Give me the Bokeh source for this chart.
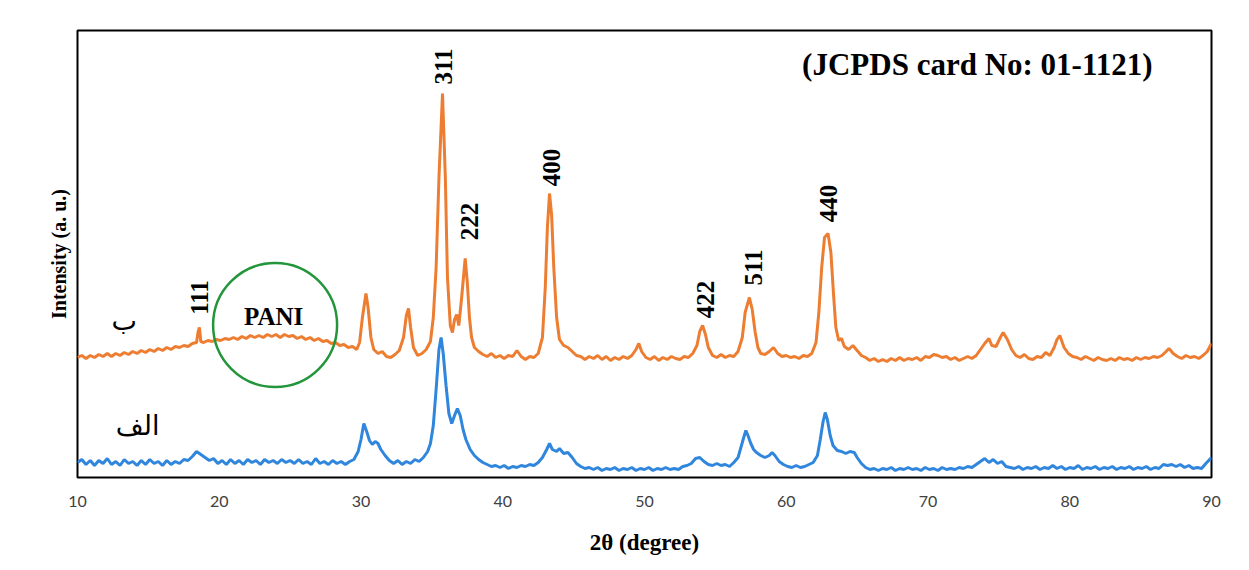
import math
from bokeh.plotting import figure
from bokeh.models import Range1d, FixedTicker
from bokeh.core.properties import value
from bokeh.embed import file_html
from bokeh.resources import INLINE

# ---------------- data ----------------
# sample "الف" (blue)
blue_2theta = [
    10.0, 10.3, 10.6, 10.9, 11.2, 11.5, 11.8, 12.1, 12.4, 12.7, 13.0, 13.3, 13.6, 13.9, 14.2, 14.5,
    14.8, 15.1, 15.4, 15.7, 16.0, 16.3, 16.6, 16.9, 17.2, 17.5, 17.8, 18.1, 18.4, 18.7, 19.0, 19.3,
    19.6, 19.9, 20.2, 20.5, 20.8, 21.1, 21.4, 21.7, 22.0, 22.3, 22.6, 22.9, 23.2, 23.5, 23.8, 24.1,
    24.4, 24.7, 25.0, 25.3, 25.6, 25.9, 26.2, 26.5, 26.8, 27.1, 27.4, 27.7, 28.0, 28.3, 28.6, 28.9,
    29.2, 29.5, 29.8, 30.0, 30.2, 30.4, 30.6, 30.8, 31.0, 31.2, 31.4, 31.7, 32.0, 32.3, 32.6, 32.9,
    33.2, 33.5, 33.8, 34.1, 34.4, 34.7, 34.9, 35.1, 35.3, 35.5, 35.65, 35.8, 36.0, 36.2, 36.4, 36.6,
    36.8, 37.0, 37.2, 37.4, 37.7, 38.0, 38.3, 38.6, 38.9, 39.2, 39.5, 39.8, 40.1, 40.4, 40.7, 41.0,
    41.3, 41.6, 41.9, 42.2, 42.5, 42.8, 43.1, 43.3, 43.5, 43.8, 44.0, 44.3, 44.6, 44.9, 45.2, 45.5,
    45.8, 46.1, 46.4, 46.7, 47.0, 47.3, 47.6, 47.9, 48.2, 48.5, 48.8, 49.1, 49.4, 49.7, 50.0, 50.3,
    50.6, 50.9, 51.2, 51.5, 51.8, 52.1, 52.4, 52.7, 53.0, 53.3, 53.6, 53.9, 54.2, 54.5, 54.8, 55.1,
    55.4, 55.7, 56.0, 56.3, 56.6, 56.8, 57.0, 57.15, 57.3, 57.5, 57.7, 57.9, 58.2, 58.5, 58.8, 59.0,
    59.2, 59.5, 59.8, 60.1, 60.4, 60.7, 61.0, 61.3, 61.6, 61.9, 62.2, 62.4, 62.6, 62.75, 62.9, 63.1,
    63.3, 63.6, 63.9, 64.2, 64.5, 64.8, 65.0, 65.3, 65.6, 65.9, 66.2, 66.5, 66.8, 67.1, 67.4, 67.7,
    68.0, 68.3, 68.6, 68.9, 69.2, 69.5, 69.8, 70.1, 70.4, 70.7, 71.0, 71.3, 71.6, 71.9, 72.2, 72.5,
    72.8, 73.1, 73.4, 73.7, 74.0, 74.3, 74.6, 74.9, 75.2, 75.5, 75.8, 76.1, 76.4, 76.7, 77.0, 77.3,
    77.6, 77.9, 78.2, 78.5, 78.8, 79.1, 79.4, 79.7, 80.0, 80.3, 80.6, 80.9, 81.2, 81.5, 81.8, 82.1,
    82.4, 82.7, 83.0, 83.3, 83.6, 83.9, 84.2, 84.5, 84.8, 85.1, 85.4, 85.7, 86.0, 86.3, 86.6, 86.9,
    87.2, 87.5, 87.8, 88.1, 88.4, 88.7, 89.0, 89.3, 89.6, 90.0,
]
blue_intensity = [
    15, 18, 13, 17, 12, 17, 14, 19, 13, 16, 12, 18, 14, 16, 12, 17,
    13, 18, 14, 16, 12, 17, 13, 16, 14, 18, 17, 21, 26, 23, 20, 17,
    19, 14, 17, 13, 18, 14, 17, 13, 18, 15, 17, 13, 18, 15, 17, 14,
    18, 15, 17, 14, 18, 14, 16, 13, 19, 14, 16, 13, 17, 14, 16, 13,
    16, 18, 26, 38, 54, 46, 37, 33, 36, 34, 28, 22, 17, 14, 17, 13,
    16, 14, 18, 16, 20, 26, 34, 52, 88, 128, 140, 124, 92, 64, 54, 62,
    69, 62, 48, 38, 28, 22, 18, 15, 13, 11, 12, 10, 12, 9, 11, 10,
    12, 11, 13, 12, 15, 20, 28, 34, 28, 26, 29, 24, 25, 20, 14, 11,
    9, 10, 8, 10, 7, 9, 8, 10, 7, 9, 8, 10, 7, 9, 8, 10,
    7, 9, 8, 10, 8, 9, 8, 11, 12, 14, 19, 20, 16, 13, 12, 14,
    12, 13, 11, 15, 20, 30, 40, 47, 42, 34, 28, 25, 22, 20, 22, 25,
    22, 16, 13, 11, 10, 12, 10, 11, 13, 15, 22, 38, 56, 65, 58, 42,
    32, 27, 26, 24, 26, 25, 20, 14, 10, 8, 9, 7, 9, 8, 10, 7,
    9, 8, 10, 8, 9, 7, 10, 8, 9, 7, 10, 8, 9, 8, 10, 9,
    11, 10, 13, 16, 19, 15, 18, 14, 16, 11, 10, 9, 11, 8, 10, 9,
    11, 8, 10, 9, 12, 9, 11, 8, 10, 9, 12, 8, 10, 9, 11, 8,
    10, 9, 11, 8, 10, 9, 11, 8, 10, 9, 11, 8, 10, 9, 13, 12,
    13, 11, 13, 10, 12, 9, 10, 9, 14, 20,
]

# sample "ب" (orange)
orange_2theta = [
    10.0, 10.3, 10.6, 10.9, 11.2, 11.5, 11.8, 12.1, 12.4, 12.7, 13.0, 13.3, 13.6, 13.9, 14.2, 14.5,
    14.8, 15.1, 15.4, 15.7, 16.0, 16.3, 16.6, 16.9, 17.2, 17.5, 17.8, 18.1, 18.4, 18.5, 18.6, 18.7,
    18.9, 19.2, 19.5, 19.8, 20.1, 20.4, 20.7, 21.0, 21.3, 21.6, 21.9, 22.2, 22.5, 22.8, 23.1, 23.4,
    23.7, 24.0, 24.3, 24.6, 24.9, 25.2, 25.5, 25.8, 26.1, 26.4, 26.7, 27.0, 27.3, 27.6, 27.9, 28.2,
    28.5, 28.8, 29.1, 29.4, 29.7, 29.9, 30.1, 30.35, 30.5, 30.7, 30.9, 31.2, 31.5, 31.8, 32.1, 32.4,
    32.7, 33.0, 33.2, 33.35, 33.5, 33.7, 34.0, 34.3, 34.6, 34.9, 35.1, 35.3, 35.5, 35.75, 35.95, 36.1,
    36.3, 36.45, 36.6, 36.75, 36.9, 37.1, 37.35, 37.5, 37.65, 37.8, 38.0, 38.3, 38.6, 38.9, 39.2, 39.5,
    39.8, 40.1, 40.4, 40.7, 41.0, 41.3, 41.6, 41.9, 42.2, 42.5, 42.8, 43.0, 43.15, 43.3, 43.45, 43.6,
    43.8, 44.0, 44.3, 44.6, 44.9, 45.2, 45.5, 45.8, 46.1, 46.4, 46.7, 47.0, 47.3, 47.6, 47.9, 48.2,
    48.5, 48.8, 49.1, 49.4, 49.6, 49.8, 50.1, 50.4, 50.7, 51.0, 51.3, 51.6, 51.9, 52.2, 52.5, 52.8,
    53.1, 53.4, 53.7, 53.9, 54.1, 54.3, 54.5, 54.8, 55.1, 55.4, 55.7, 56.0, 56.3, 56.6, 56.9, 57.1,
    57.4, 57.6, 57.8, 58.0, 58.2, 58.5, 58.8, 59.1, 59.4, 59.7, 60.0, 60.3, 60.6, 60.9, 61.2, 61.5,
    61.8, 62.1, 62.3, 62.5, 62.7, 62.95, 63.15, 63.35, 63.5, 63.7, 63.9, 64.1, 64.4, 64.7, 65.0, 65.3,
    65.6, 65.9, 66.2, 66.5, 66.8, 67.1, 67.4, 67.7, 68.0, 68.3, 68.6, 68.9, 69.2, 69.5, 69.8, 70.1,
    70.4, 70.7, 71.0, 71.3, 71.6, 71.9, 72.2, 72.5, 72.8, 73.1, 73.4, 73.7, 74.0, 74.3, 74.5, 74.8,
    75.1, 75.3, 75.6, 75.9, 76.2, 76.5, 76.8, 77.1, 77.4, 77.7, 78.0, 78.3, 78.6, 78.9, 79.1, 79.3,
    79.6, 79.9, 80.2, 80.5, 80.8, 81.1, 81.4, 81.7, 82.0, 82.3, 82.6, 82.9, 83.2, 83.5, 83.8, 84.1,
    84.4, 84.7, 85.0, 85.3, 85.6, 85.9, 86.2, 86.5, 86.8, 87.0, 87.3, 87.6, 87.9, 88.2, 88.5, 88.8,
    89.1, 89.4, 89.7, 90.0,
]
orange_intensity = [
    120, 122, 119, 122, 120, 123, 121, 124, 121, 124, 122, 125, 123, 126, 124, 127,
    125, 128, 126, 129, 127, 130, 128, 131, 130, 132, 131, 134, 135, 145, 150, 136,
    135, 137, 136, 138, 137, 139, 138, 140, 138, 141, 139, 142, 140, 142, 140, 143,
    141, 143, 140, 143, 141, 142, 139, 141, 138, 140, 137, 139, 136, 137, 134, 135,
    132, 133, 130, 131, 128, 135, 160, 184, 170, 140, 128, 124, 126, 121, 120, 123,
    127, 140, 162, 169, 150, 130, 122, 124, 128, 136, 160, 210, 300, 384, 300, 200,
    152, 145, 158, 163, 152, 180, 219, 195, 160, 140, 130, 126, 123, 121, 124, 120,
    122, 119, 122, 121, 127, 121, 118, 121, 120, 124, 140, 190, 250, 284, 262, 210,
    160, 138, 132, 130, 126, 122, 121, 118, 121, 119, 122, 118, 121, 117, 120, 118,
    121, 119, 122, 128, 134, 126, 120, 118, 121, 117, 120, 118, 121, 119, 118, 121,
    120, 124, 132, 146, 152, 143, 130, 122, 120, 123, 120, 122, 121, 126, 140, 165,
    180, 168, 146, 130, 124, 123, 126, 130, 124, 121, 122, 120, 121, 119, 122, 121,
    124, 135, 165, 210, 240, 244, 225, 180, 150, 137, 139, 131, 128, 132, 127, 122,
    120, 117, 119, 116, 118, 116, 119, 117, 120, 117, 119, 118, 120, 117, 121, 120,
    123, 122, 120, 121, 118, 120, 117, 119, 121, 119, 122, 128, 134, 139, 132, 131,
    140, 145, 138, 128, 122, 120, 123, 119, 118, 121, 120, 125, 122, 130, 138, 142,
    130, 124, 121, 120, 118, 121, 119, 117, 120, 118, 117, 119, 117, 120, 118, 119,
    117, 120, 118, 120, 119, 121, 120, 122, 126, 129, 124, 121, 119, 122, 120, 121,
    119, 122, 126, 134,
]

# peak indices (Miller) and their label positions
peak_labels = ["111", "311", "222", "400", "422", "511", "440"]
peak_label_x = [18.6, 35.84, 37.68, 43.47, 54.27, 57.66, 62.96]
peak_label_y = [180, 411, 256, 310, 178, 210, 274]

x_ticks = [10, 20, 30, 40, 50, 60, 70, 80, 90]

# ---------------- figure ----------------
p = figure(width=1249, height=570, output_backend="svg", toolbar_location=None,
           x_range=Range1d(10, 90), y_range=Range1d(0, 447),
           min_border_left=77, min_border_right=38, min_border_top=30, min_border_bottom=93)
p.background_fill_color = "white"
p.border_fill_color = "white"
p.outline_line_color = "black"
p.outline_line_width = 2
p.xgrid.visible = False
p.ygrid.visible = False

xa = p.xaxis[0]
xa.ticker = FixedTicker(ticks=x_ticks)
xa.axis_line_color = None
xa.major_tick_line_color = None
xa.minor_tick_line_color = None
xa.major_tick_out = 0
xa.major_tick_in = 0
xa.major_label_standoff = 18
xa.major_label_text_font = "Lato"
xa.major_label_text_font_size = "16px"
xa.major_label_text_color = "#404040"
xa.axis_label = "2θ (degree)"
xa.axis_label_text_font = "Liberation Serif"
xa.axis_label_text_font_style = "bold"
xa.axis_label_text_font_size = "23px"
xa.axis_label_text_color = "black"
xa.axis_label_standoff = 20

ya = p.yaxis[0]
ya.ticker = FixedTicker(ticks=[])
ya.axis_line_color = None
ya.major_tick_line_color = None
ya.minor_tick_line_color = None
ya.major_tick_out = 0
ya.major_tick_in = 0
ya.major_label_standoff = 0
ya.axis_label = "Intensity (a. u.)"
ya.axis_label_text_font = "Liberation Serif"
ya.axis_label_text_font_style = "bold"
ya.axis_label_text_font_size = "20px"
ya.axis_label_text_color = "black"
ya.axis_label_standoff = 8

# curves
p.line(blue_2theta, blue_intensity, line_color="#2f86dc", line_width=3)
p.line(orange_2theta, orange_intensity, line_color="#ED7D31", line_width=3)

# PANI circle
p.scatter([23.94], [152.5], marker="circle", size=124, fill_color=None,
          line_color="#23963b", line_width=2.5)

serif = value("Liberation Serif")
p.text(peak_label_x, peak_label_y, text=peak_labels, angle=math.pi / 2,
       text_align="center", text_baseline="middle", text_font=serif,
       text_font_style="bold", text_font_size="25px", text_color="black")
p.text([23.84], [161], text=["PANI"], text_align="center", text_baseline="middle",
       text_font=serif, text_font_style="bold", text_font_size="25px", text_color="black")
p.text([73.48], [413], text=["(JCPDS card No: 01-1121)"], text_align="center",
       text_baseline="middle", text_font=serif, text_font_style="bold",
       text_font_size="31px", text_color="black")
p.text([13.3, 14.24], [157, 52], text=["ب", "الف"], text_align="center",
       text_baseline="middle", text_font=value("DejaVu Sans"),
       text_font_size="27px", text_color="black")

open("out.html", "w").write(file_html(p, INLINE))
